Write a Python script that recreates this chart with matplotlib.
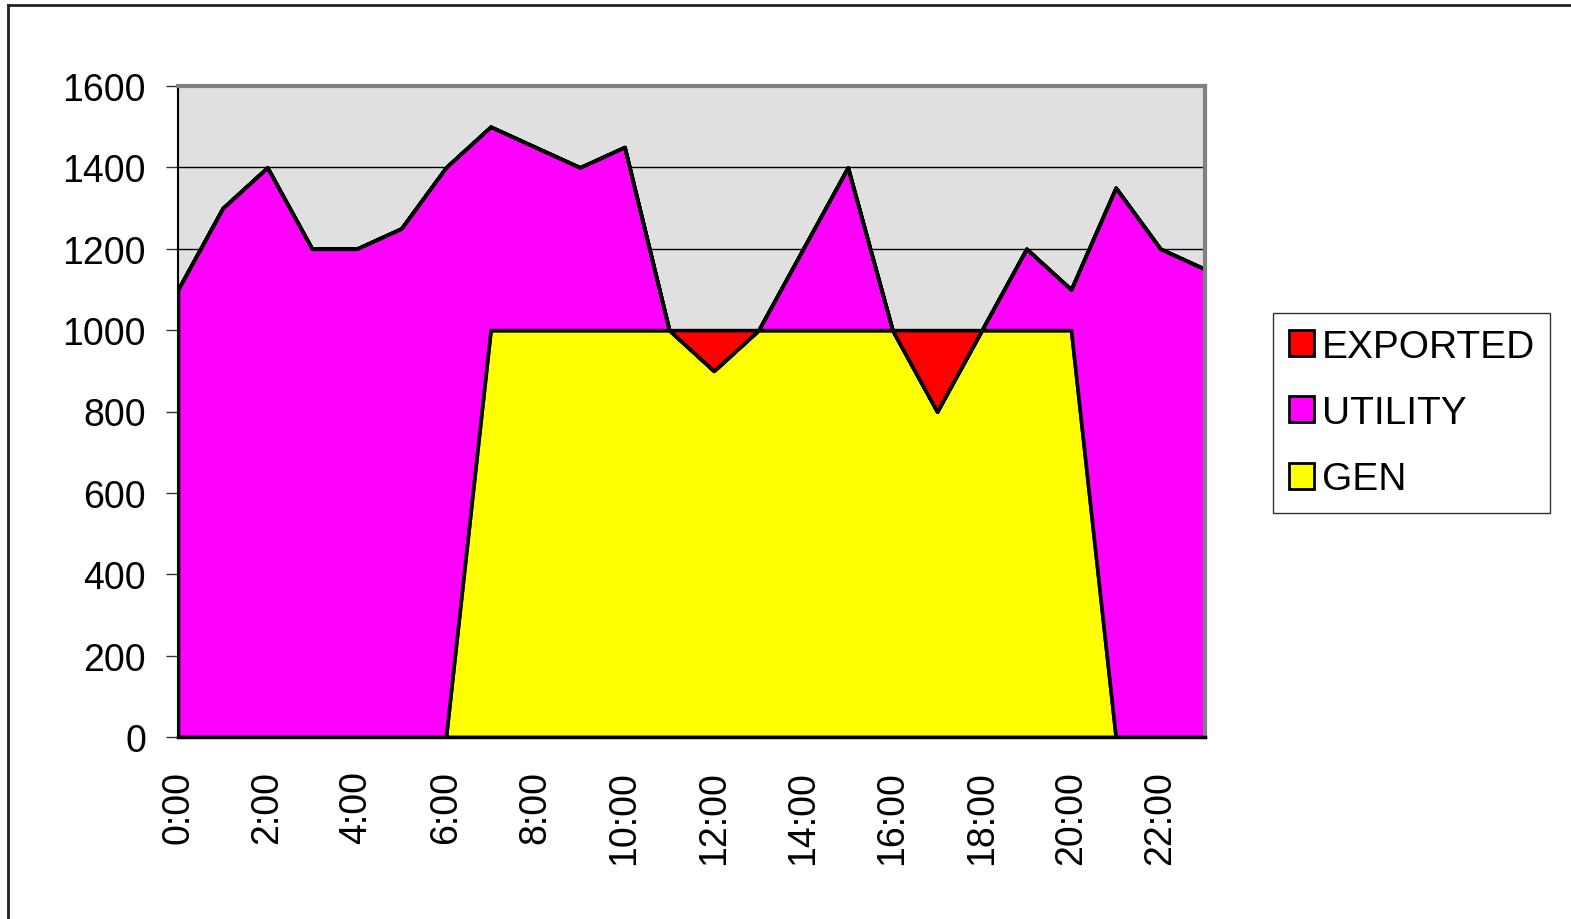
import matplotlib
matplotlib.use("Agg")
import matplotlib.pyplot as plt
from matplotlib.patches import Patch
from matplotlib.lines import Line2D
import numpy as np

plt.rcParams['font.family'] = ['Liberation Sans', 'DejaVu Sans']

# hourly load and generator output
hours = list(range(24))
hour_labels = ["%d:00" % h for h in hours]
load = [1100, 1300, 1400, 1200, 1200, 1250, 1400, 1500, 1450, 1400, 1450, 1000,
        900, 1000, 1200, 1400, 1000, 800, 1000, 1200, 1100, 1350, 1200, 1150]
gen = [0, 0, 0, 0, 0, 0, 0, 1000, 1000, 1000, 1000, 1000,
       1000, 1000, 1000, 1000, 1000, 1000, 1000, 1000, 1000, 0, 0, 0]

load = np.array(load)
gen = np.array(gen)
gen_used = np.minimum(gen, load)
utility = load - gen_used
exported = gen - gen_used

fig = plt.figure(figsize=(15.71, 9.2), dpi=100)
ax = fig.add_axes([178/1571, 1 - 738/920, (1205-178)/1571, (738-87)/920])
ax.set_facecolor('#e0e0e0')

ax.stackplot(hours, gen_used, utility, exported,
             colors=['#ffff00', '#ff00ff', '#ff0000'],
             edgecolor='black', linewidth=2.6, zorder=3)

ax.set_xlim(0, 23)
ax.set_ylim(0, 1600)
ax.set_yticks(range(0, 1601, 200))
ax.yaxis.grid(True, color='black', linewidth=1)
ax.set_axisbelow(True)

ax.set_xticks(hours)
ax.set_xticklabels([l if h % 2 == 0 else '' for h, l in zip(hours, hour_labels)],
                   rotation=90, fontsize=27)
ax.tick_params(axis='x', direction='in', length=9, width=1, color='#333333', pad=24)
ax.tick_params(axis='y', direction='out', length=9, width=1, color='#333333',
               pad=14, labelsize=27)

for s in ['top', 'right']:
    ax.spines[s].set_color('#808080')
    ax.spines[s].set_linewidth(3)
ax.spines['left'].set_color('black')
ax.spines['left'].set_linewidth(1.5)
ax.spines['bottom'].set_color('black')
ax.spines['bottom'].set_linewidth(2.5)
for s in ax.spines.values():
    s.set_zorder(5)

handles = [Patch(facecolor='#ff0000', edgecolor='black', linewidth=2),
           Patch(facecolor='#ff00ff', edgecolor='black', linewidth=2),
           Patch(facecolor='#ffff00', edgecolor='black', linewidth=2)]
leg = fig.legend(handles, ['EXPORTED', 'UTILITY', 'GEN'],
                 loc='upper left', bbox_to_anchor=(1273/1571, 1 - 314/920),
                 fontsize=28, frameon=True, fancybox=False,
                 handlelength=0.65, handleheight=0.65, handletextpad=0.2,
                 labelspacing=0.78, borderpad=0.4, borderaxespad=0)
leg.get_frame().set_edgecolor('black')
leg.get_frame().set_linewidth(1)

# outer chart frame (top and left edges only)
fig.add_artist(Line2D([8/1571, 8/1571], [0, 1 - 6/920], color='#222222', linewidth=2))
fig.add_artist(Line2D([8/1571, 1], [1 - 6/920, 1 - 6/920], color='#222222', linewidth=2))

fig.savefig('out.png', dpi=100)
